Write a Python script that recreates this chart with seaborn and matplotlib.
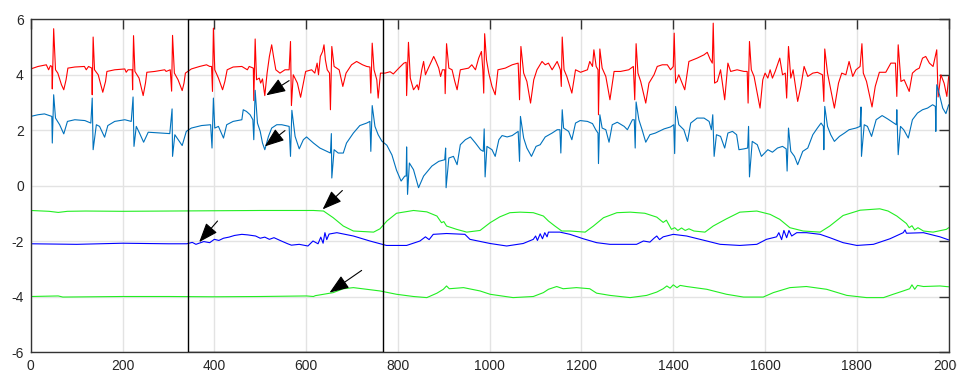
import matplotlib
matplotlib.use("Agg")
import pandas as pd
import matplotlib.pyplot as plt
import seaborn as sns
from matplotlib.patches import Rectangle

# upper trace (red)
red_pts = [
    (0, 4.20), (16, 4.29), (34, 4.35), (39, 4.17), (43, 4.32), (46, 4.29), (47, 3.48), (50, 5.65),
    (54, 4.17), (59, 4.05), (67, 3.63), (72, 3.45), (77, 3.81), (81, 4.23), (96, 4.27), (117, 4.29),
    (121, 4.17), (126, 4.29), (133, 4.23), (134, 3.27), (136, 5.35), (139, 4.17), (147, 3.99),
    (157, 3.36), (163, 3.75), (166, 4.11), (183, 4.17), (205, 4.20), (208, 4.08), (212, 4.17),
    (221, 4.17), (222, 3.45), (224, 5.40), (227, 4.11), (236, 3.87), (245, 3.24), (250, 3.69),
    (253, 4.08), (270, 4.11), (292, 4.17), (295, 4.11), (304, 4.17), (307, 3.40), (309, 5.41),
    (313, 4.05), (321, 3.81), (330, 3.42), (334, 3.69), (337, 4.05), (350, 4.20), (368, 4.29),
    (383, 4.35), (390, 4.29), (394, 4.29), (396, 3.39), (398, 5.67), (401, 4.17), (409, 3.87),
    (418, 3.45), (423, 3.75), (428, 4.17), (441, 4.27), (460, 4.29), (472, 4.17), (476, 4.29),
    (485, 4.23), (486, 3.06), (489, 5.28), (492, 3.81), (498, 3.87), (501, 3.69), (505, 3.84),
    (510, 3.24), (515, 4.05), (520, 4.65), (525, 5.07), (529, 4.65), (534, 4.17), (543, 4.05),
    (554, 4.17), (563, 4.17), (566, 5.19), (568, 2.88), (572, 3.99), (581, 3.69), (588, 3.18),
    (594, 3.69), (599, 4.11), (612, 4.17), (619, 4.05), (624, 4.41), (627, 3.99), (631, 4.65),
    (636, 4.83), (639, 5.07), (642, 4.53), (646, 4.17), (651, 4.05), (653, 2.73), (656, 5.01),
    (661, 4.29), (672, 4.17), (680, 3.57), (687, 4.05), (699, 4.35), (710, 4.47), (723, 4.35),
    (732, 4.29), (739, 4.27), (741, 3.33), (744, 5.13), (748, 4.17), (754, 3.81), (757, 3.15),
    (762, 4.05), (772, 4.05), (783, 4.10), (790, 4.02), (802, 4.23), (813, 4.41), (818, 4.44),
    (819, 3.24), (823, 5.16), (827, 3.87), (834, 3.45), (842, 3.63), (845, 3.45), (852, 4.17),
    (856, 4.47), (860, 3.99), (863, 4.11), (868, 4.29), (878, 4.65), (883, 4.47), (889, 4.23),
    (893, 3.93), (897, 4.17), (902, 4.17), (903, 3.31), (906, 5.11), (911, 4.23), (918, 4.17),
    (924, 3.75), (929, 3.45), (936, 4.17), (954, 4.23), (961, 4.35), (969, 4.17), (976, 4.59),
    (982, 4.83), (985, 4.17), (987, 3.33), (989, 5.47), (993, 4.53), (998, 4.05), (1005, 3.57),
    (1012, 3.27), (1018, 4.17), (1034, 4.23), (1049, 4.35), (1062, 4.41), (1065, 3.09), (1068, 5.01),
    (1074, 4.05), (1081, 3.75), (1089, 2.97), (1096, 3.81), (1103, 4.17), (1114, 4.47), (1121, 4.35),
    (1128, 4.41), (1136, 4.17), (1147, 4.47), (1154, 4.17), (1156, 3.57), (1158, 5.35), (1162, 4.17),
    (1168, 3.93), (1179, 3.33), (1187, 4.17), (1198, 4.08), (1213, 4.17), (1218, 4.47), (1224, 4.29),
    (1227, 4.89), (1232, 4.29), (1236, 4.17), (1237, 2.55), (1240, 4.92), (1245, 4.23), (1253, 3.93),
    (1262, 3.09), (1271, 4.11), (1285, 4.11), (1303, 4.17), (1313, 4.29), (1316, 3.09), (1319, 5.11),
    (1323, 4.05), (1329, 3.75), (1340, 2.97), (1347, 3.69), (1358, 3.99), (1365, 4.29), (1376, 4.35),
    (1387, 4.35), (1394, 4.17), (1400, 4.29), (1402, 5.49), (1405, 3.69), (1412, 3.99), (1425, 3.45),
    (1434, 4.47), (1452, 4.59), (1467, 4.71), (1474, 4.80), (1480, 4.56), (1485, 4.41), (1487, 5.85),
    (1490, 3.69), (1496, 3.75), (1503, 4.17), (1512, 3.09), (1519, 4.41), (1525, 4.11), (1539, 4.17),
    (1554, 4.11), (1561, 4.11), (1563, 2.97), (1566, 5.19), (1570, 4.17), (1576, 3.93), (1589, 2.79),
    (1595, 3.81), (1600, 4.05), (1606, 3.87), (1611, 4.17), (1616, 3.87), (1622, 4.11), (1632, 4.59),
    (1638, 3.99), (1644, 4.05), (1647, 3.15), (1651, 5.01), (1656, 3.87), (1661, 4.17), (1671, 3.03),
    (1678, 3.57), (1685, 4.29), (1693, 3.93), (1704, 4.05), (1714, 4.08), (1725, 3.99), (1728, 3.03),
    (1730, 4.92), (1736, 4.05), (1751, 2.79), (1760, 3.69), (1767, 4.05), (1776, 3.99), (1783, 4.47),
    (1791, 3.93), (1798, 4.17), (1807, 4.29), (1811, 5.11), (1814, 4.05), (1821, 3.75), (1833, 2.83),
    (1840, 3.57), (1849, 4.08), (1863, 4.08), (1874, 4.41), (1884, 4.41), (1887, 3.21), (1890, 5.07),
    (1896, 3.75), (1903, 3.81), (1914, 3.39), (1921, 4.05), (1929, 4.17), (1936, 4.23), (1943, 4.59),
    (1950, 4.65), (1958, 4.41), (1966, 4.29), (1974, 4.89), (1977, 3.19), (1983, 3.99), (1990, 3.69),
    (1996, 3.21), (2000, 3.93),
]

# second trace (blue)
blue_pts = [
    (0, 2.49), (16, 2.55), (30, 2.58), (41, 2.52), (46, 2.49), (47, 1.53), (50, 3.27), (54, 2.43),
    (63, 2.19), (72, 1.86), (80, 2.31), (96, 2.37), (118, 2.34), (131, 2.25), (134, 3.15), (136, 1.29),
    (143, 2.19), (150, 2.13), (161, 1.74), (168, 2.16), (183, 2.31), (205, 2.37), (219, 2.31),
    (223, 3.19), (225, 1.41), (230, 2.13), (237, 1.89), (246, 1.56), (256, 1.92), (285, 1.89),
    (303, 1.87), (308, 2.76), (309, 1.05), (314, 1.83), (330, 1.44), (339, 1.95), (350, 2.07),
    (372, 2.16), (392, 2.19), (395, 1.35), (398, 3.15), (401, 2.07), (409, 2.13), (420, 1.71),
    (427, 2.19), (441, 2.31), (460, 2.37), (463, 2.73), (470, 2.67), (478, 2.55), (484, 2.37),
    (486, 1.65), (489, 3.43), (494, 2.25), (500, 1.95), (505, 1.53), (510, 1.29), (518, 1.77),
    (525, 2.07), (536, 2.19), (547, 2.19), (563, 2.13), (566, 1.05), (569, 2.71), (576, 1.77),
    (585, 1.32), (594, 1.65), (601, 1.75), (616, 1.53), (630, 1.35), (645, 1.23), (653, 1.17),
    (655, 1.87), (656, 0.27), (661, 1.29), (670, 1.17), (681, 1.17), (688, 1.53), (703, 1.89),
    (717, 2.16), (732, 2.25), (739, 2.31), (741, 1.23), (744, 2.88), (750, 2.13), (757, 1.83),
    (765, 1.60), (776, 1.45), (787, 1.10), (797, 0.55), (807, 0.16), (815, 0.34), (818, 0.34),
    (819, 1.39), (821, -0.32), (825, 0.81), (834, 0.57), (845, -0.08), (856, 0.34), (874, 0.70),
    (889, 0.87), (902, 0.93), (904, 1.35), (905, -0.08), (911, 0.99), (921, 1.05), (929, 0.75),
    (936, 1.47), (947, 1.65), (958, 1.75), (969, 1.53), (980, 1.29), (986, 1.23), (988, 2.04),
    (990, 0.31), (994, 1.41), (1005, 1.29), (1012, 1.05), (1020, 1.65), (1027, 1.80), (1038, 1.75),
    (1049, 1.80), (1062, 1.95), (1065, 0.87), (1067, 2.49), (1074, 1.71), (1081, 1.35), (1091, 1.05),
    (1101, 1.41), (1110, 1.47), (1121, 1.75), (1136, 1.89), (1147, 2.01), (1153, 2.01), (1155, 1.17),
    (1158, 2.73), (1161, 2.07), (1172, 1.95), (1179, 1.65), (1187, 2.25), (1197, 2.34), (1213, 2.31),
    (1224, 2.23), (1231, 2.01), (1236, 1.89), (1237, 0.79), (1240, 2.55), (1245, 2.07), (1253, 2.01),
    (1260, 1.56), (1267, 2.19), (1278, 2.28), (1293, 2.13), (1300, 2.01), (1311, 2.37), (1315, 2.37),
    (1317, 1.35), (1319, 3.01), (1325, 2.37), (1332, 2.01), (1340, 1.56), (1349, 1.83), (1361, 1.89),
    (1380, 2.04), (1394, 2.11), (1401, 2.19), (1403, 1.15), (1405, 2.85), (1412, 2.19), (1423, 2.01),
    (1431, 1.59), (1438, 2.25), (1452, 2.43), (1467, 2.43), (1478, 2.31), (1483, 2.01), (1486, 2.55),
    (1489, 1.05), (1494, 1.83), (1503, 1.77), (1512, 1.35), (1519, 1.89), (1529, 1.95), (1538, 1.83),
    (1543, 1.29), (1554, 1.32), (1562, 1.35), (1564, 2.13), (1566, 0.31), (1572, 1.59), (1583, 1.47),
    (1592, 1.05), (1606, 1.29), (1616, 1.20), (1627, 1.35), (1638, 1.41), (1646, 1.32), (1648, 0.52),
    (1651, 2.07), (1656, 1.23), (1664, 1.05), (1671, 0.75), (1682, 1.23), (1693, 1.35), (1704, 1.83),
    (1714, 2.07), (1722, 2.25), (1727, 2.13), (1728, 1.29), (1730, 2.85), (1736, 2.13), (1743, 1.83),
    (1751, 1.59), (1762, 1.77), (1773, 1.89), (1783, 2.01), (1798, 2.07), (1807, 2.13), (1809, 2.83),
    (1810, 1.05), (1816, 2.19), (1823, 2.13), (1832, 1.77), (1842, 2.37), (1855, 2.52), (1867, 2.40),
    (1878, 2.28), (1886, 2.19), (1887, 2.73), (1890, 1.11), (1895, 2.13), (1902, 2.01), (1912, 1.71),
    (1921, 2.37), (1932, 2.61), (1943, 2.73), (1954, 2.79), (1965, 2.91), (1971, 2.85), (1972, 1.95),
    (1974, 3.63), (1980, 3.27), (1987, 2.79), (1994, 2.59), (2000, 2.91),
]

# upper green trace
green1_pts = [
    (0, -0.90), (40, -0.93), (60, -0.97), (80, -0.93), (120, -0.92), (200, -0.93), (300, -0.92),
    (400, -0.91), (500, -0.90), (616, -0.90), (638, -0.92), (659, -1.16), (681, -1.46), (703, -1.64),
    (747, -1.68), (761, -1.56), (776, -1.28), (797, -1.00), (834, -0.90), (863, -0.95), (885, -1.10),
    (895, -1.34), (900, -1.30), (906, -1.46), (928, -1.58), (950, -1.68), (979, -1.62), (1001, -1.34),
    (1022, -1.13), (1044, -0.98), (1066, -0.96), (1095, -0.98), (1117, -1.10), (1128, -1.28),
    (1142, -1.46), (1157, -1.64), (1175, -1.64), (1208, -1.68), (1226, -1.46), (1248, -1.16),
    (1277, -0.98), (1306, -0.96), (1338, -1.00), (1364, -1.14), (1378, -1.33), (1385, -1.25),
    (1396, -1.58), (1403, -1.52), (1410, -1.62), (1418, -1.53), (1426, -1.62), (1434, -1.56),
    (1445, -1.64), (1469, -1.68), (1487, -1.46), (1516, -1.20), (1545, -0.96), (1582, -0.92),
    (1611, -1.04), (1632, -1.22), (1654, -1.52), (1683, -1.64), (1720, -1.68), (1741, -1.46),
    (1770, -1.08), (1807, -0.89), (1850, -0.84), (1868, -0.92), (1887, -1.10), (1908, -1.37),
    (1914, -1.52), (1920, -1.45), (1926, -1.60), (1933, -1.52), (1945, -1.64), (1966, -1.68),
    (1995, -1.58), (2000, -1.52),
]

# dark blue trace
navy_pts = [
    (0, -2.10), (100, -2.12), (200, -2.08), (300, -2.10), (340, -2.10), (352, -2.05), (360, -2.12),
    (377, -2.02), (390, -2.06), (400, -1.94), (410, -1.98), (420, -1.90), (432, -1.86), (444, -1.80),
    (460, -1.76), (473, -1.78), (490, -1.82), (500, -1.90), (510, -1.86), (520, -1.94), (530, -1.88),
    (546, -2.00), (560, -2.10), (568, -2.15), (585, -2.12), (604, -2.18), (615, -2.00), (626, -2.10),
    (632, -1.86), (637, -2.08), (641, -1.70), (645, -1.95), (650, -1.75), (667, -1.70), (703, -1.82),
    (739, -2.00), (775, -2.16), (819, -2.16), (848, -2.00), (860, -1.85), (868, -1.95), (877, -1.76),
    (906, -1.73), (946, -1.76), (957, -1.94), (1001, -2.09), (1037, -2.18), (1073, -2.09),
    (1095, -1.94), (1100, -1.82), (1104, -1.98), (1110, -1.74), (1115, -1.92), (1120, -1.70),
    (1125, -1.85), (1128, -1.68), (1153, -1.68), (1175, -1.76), (1204, -1.92), (1233, -2.06),
    (1262, -2.12), (1320, -2.12), (1335, -2.00), (1349, -2.04), (1358, -1.90), (1364, -1.82),
    (1370, -1.95), (1378, -1.85), (1400, -1.76), (1429, -1.82), (1473, -2.00), (1502, -2.12),
    (1545, -2.16), (1582, -2.12), (1603, -1.94), (1625, -1.85), (1630, -1.70), (1636, -1.95),
    (1641, -1.62), (1647, -1.88), (1652, -1.62), (1658, -1.82), (1669, -1.70), (1690, -1.70),
    (1720, -1.76), (1741, -1.88), (1770, -2.06), (1800, -2.16), (1836, -2.12), (1872, -1.92),
    (1901, -1.70), (1905, -1.60), (1908, -1.72), (1945, -1.70), (1981, -1.85), (2000, -1.96),
]

# lower green trace
green2_pts = [
    (0, -4.00), (60, -3.98), (70, -4.02), (200, -4.00), (300, -4.00), (400, -4.01), (500, -4.00),
    (601, -3.98), (616, -4.00), (620, -3.97), (638, -3.92), (659, -3.86), (681, -3.72), (703, -3.68),
    (732, -3.74), (761, -3.80), (797, -3.92), (834, -4.00), (863, -4.04), (885, -3.88), (899, -3.74),
    (906, -3.62), (912, -3.72), (943, -3.68), (979, -3.80), (1001, -3.92), (1051, -4.04),
    (1095, -4.00), (1117, -3.86), (1128, -3.74), (1146, -3.64), (1160, -3.72), (1189, -3.68),
    (1218, -3.72), (1233, -3.88), (1262, -3.96), (1306, -4.04), (1342, -3.96), (1364, -3.84),
    (1378, -3.72), (1386, -3.62), (1393, -3.70), (1400, -3.58), (1408, -3.68), (1415, -3.60),
    (1429, -3.64), (1473, -3.74), (1516, -3.92), (1553, -4.02), (1596, -4.02), (1618, -3.86),
    (1654, -3.68), (1690, -3.64), (1734, -3.74), (1778, -3.96), (1821, -4.04), (1858, -4.04),
    (1879, -3.92), (1901, -3.80), (1915, -3.72), (1920, -3.58), (1926, -3.74), (1932, -3.60),
    (1945, -3.64), (1981, -3.62), (2000, -3.65),
]

series_colors = {
    "red": "#ff0000",
    "blue": "#0072bd",
    "green1": "#22ee22",
    "navy": "#0000ff",
    "green2": "#22ee22",
}

# arrows: (tip x, tip y, tail x, tail y)
arrows = [
    (513, 3.25, 563, 3.78),
    (510, 1.41, 554, 1.98),
    (367, -2.04, 407, -1.28),
    (636, -0.86, 679, -0.18),
    (651, -3.86, 721, -3.06),
]

# highlighted window
box_x0, box_x1 = 342, 767

frames = []
for name, pts in [("red", red_pts), ("blue", blue_pts), ("green1", green1_pts),
                  ("navy", navy_pts), ("green2", green2_pts)]:
    df = pd.DataFrame(pts, columns=["x", "y"])
    df["series"] = name
    frames.append(df)
data = pd.concat(frames, ignore_index=True)

sns.set_style("whitegrid")
plt.rcParams["font.family"] = ["Liberation Sans", "DejaVu Sans"]
plt.rcParams["axes.unicode_minus"] = False

fig = plt.figure(figsize=(9.57, 3.77), dpi=100)
ax = fig.add_axes([0.0321, 0.0663, 0.9592, 0.8833])

sns.lineplot(data=data, x="x", y="y", hue="series", palette=series_colors,
             estimator=None, sort=False, units="series", legend=False, lw=0.8, ax=ax)

ax.add_patch(Rectangle((box_x0, -6), box_x1 - box_x0, 12, fill=False,
                       edgecolor="black", lw=1.0, zorder=5))

for tx, ty, sx, sy in arrows:
    ax.annotate("", xy=(tx, ty), xytext=(sx, sy),
                arrowprops=dict(arrowstyle="-|>,head_length=1.2,head_width=0.45",
                                color="black", lw=0.8, shrinkA=0, shrinkB=0,
                                mutation_scale=10), zorder=6)

ax.set_xlim(0, 2000)
ax.set_ylim(-6, 6)
ax.set_xticks(range(0, 2001, 200))
ax.set_yticks(range(-6, 7, 2))
ax.set_xlabel("")
ax.set_ylabel("")
ax.grid(True, color="#e3e3e3", lw=1.0)
for s in ax.spines.values():
    s.set_visible(True)
    s.set_color("#333333")
    s.set_linewidth(1.0)
ax.tick_params(direction="in", length=7, width=1.0, color="#333333",
               top=True, right=True, labelsize=10, labelcolor="#262626", pad=5)

fig.savefig("out.png", dpi=100)
